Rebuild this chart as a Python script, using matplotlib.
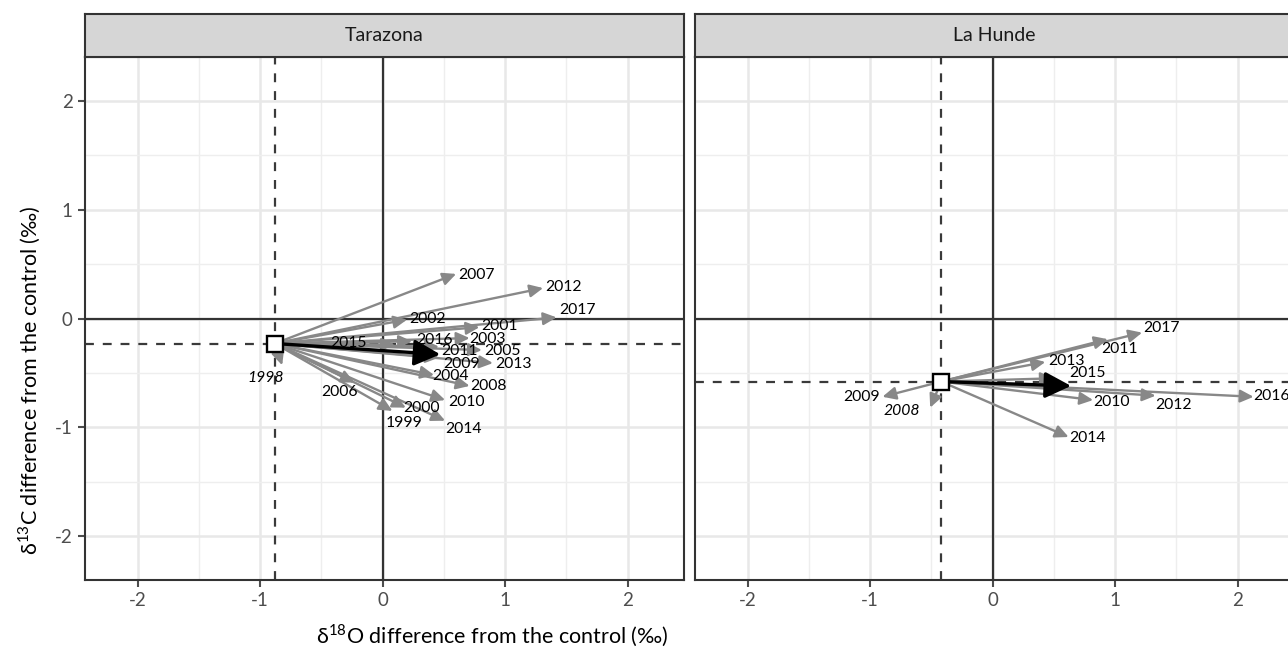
import matplotlib
matplotlib.use("Agg")
import matplotlib.pyplot as plt
from matplotlib.ticker import MultipleLocator

plt.rcParams['font.family'] = ['Lato', 'DejaVu Sans']

# ---------------- data ----------------
sites = ["Tarazona", "La Hunde"]

taz_years = [1998, 1999, 2000, 2001, 2002, 2003, 2004, 2005, 2006, 2007,
             2008, 2009, 2010, 2011, 2012, 2013, 2014, 2015, 2016, 2017]
taz_dO = [-0.82, 0.08, 0.19, 0.79, 0.20, 0.71, 0.42, 0.81, -0.23, 0.60,
          0.71, 0.46, 0.51, 0.46, 1.31, 0.90, 0.51, 0.10, 0.24, 1.42]
taz_dC = [-0.43, -0.85, -0.82, -0.08, -0.01, -0.18, -0.52, -0.29, -0.59, 0.41,
          -0.62, -0.36, -0.75, -0.26, 0.28, -0.41, -0.94, -0.24, -0.21, 0.01]
taz_origin = (-0.88, -0.23)
taz_mean = (0.47, -0.33)
taz_italic = [1998]

lh_years = [2008, 2009, 2010, 2011, 2012, 2013, 2014, 2015, 2016, 2017]
lh_dO = [-0.51, -0.90, 0.82, 0.94, 1.33, 0.43, 0.62, 0.50, 2.13, 1.22]
lh_dC = [-0.82, -0.72, -0.75, -0.19, -0.71, -0.40, -1.09, -0.55, -0.72, -0.13]
lh_origin = (-0.42, -0.58)
lh_mean = (0.64, -0.62)
lh_italic = [2008]

xticks = [-2, -1, 0, 1, 2]
yticks = [-2, -1, 0, 1, 2]

# label placement (pixel offsets from arrow tip: dx, dy-down, ha)
taz_lab = {1998: (2, 13, 'right'), 1999: (-7, 12, 'left'), 2000: (-3, 0, 'left'),
           2001: (2, -1, 'left'), 2002: (2, -1, 'left'), 2003: (0, 1, 'left'),
           2004: (-2, 1, 'left'), 2005: (2, 1, 'left'), 2006: (3, 9, 'right'),
           2007: (2, 1, 'left'), 2008: (1, 0, 'left'), 2009: (4, 6, 'left'),
           2010: (3, 2, 'left'), 2011: (2, 4, 'left'), 2012: (2, -1, 'left'),
           2013: (2, 1, 'left'), 2014: (0, 8, 'left'), 2015: (-28, -2, 'right'),
           2016: (4, -1, 'left'), 2017: (3, -7, 'left')}
lh_lab = {2008: (-10, 3, 'right'), 2009: (-3, 0, 'right'), 2010: (0, 2, 'left'),
          2011: (-7, 10, 'left'), 2012: (0, 9, 'left'), 2013: (3, -1, 'left'),
          2014: (1, 1, 'left'), 2015: (15, -5, 'left'), 2016: (0, -1, 'left'),
          2017: (1, -5, 'left')}

# ---------------- figure ----------------
W, H = 1288, 651
fig = plt.figure(figsize=(W / 100, H / 100), dpi=100)

def fx(px):
    return px / W

def fy(py):
    return 1 - py / H

panel_top, panel_bot = 57, 580
strip_top = 14
pw = 599
lefts = [85, 695]

xlim = (-2.43, 2.46)
ylim = (-2.405, 2.405)

GRAY_ARROW = '#888888'
DARK = '#333333'

panels = [
    (taz_years, taz_dO, taz_dC, taz_origin, taz_mean, taz_italic, taz_lab),
    (lh_years, lh_dO, lh_dC, lh_origin, lh_mean, lh_italic, lh_lab),
]

for i, (site, pdata) in enumerate(zip(sites, panels)):
    years, dO, dC, origin, mean, italic, labs = pdata
    L = lefts[i]
    ax = fig.add_axes([fx(L), fy(panel_bot), pw / W, (panel_bot - panel_top) / H])
    ax.set_xlim(*xlim)
    ax.set_ylim(*ylim)
    ax.set_facecolor('white')
    ax.xaxis.set_major_locator(MultipleLocator(1))
    ax.xaxis.set_minor_locator(MultipleLocator(0.5))
    ax.yaxis.set_major_locator(MultipleLocator(1))
    ax.yaxis.set_minor_locator(MultipleLocator(0.5))
    ax.grid(which='major', color='#e8e8e8', lw=1.8, zorder=0)
    ax.grid(which='minor', color='#eeeeee', lw=1.0, zorder=0)
    ax.set_axisbelow(True)
    ax.set_xticks(xticks)
    ax.set_xticklabels([str(t) for t in xticks])
    ax.set_yticks(yticks)
    if i == 0:
        ax.set_yticklabels([str(t) for t in yticks])
    else:
        ax.tick_params(axis='y', which='both', left=False, labelleft=False)
    ax.tick_params(axis='both', which='major', labelsize=13.5, colors='#4d4d4d',
                   length=5, width=1.5, pad=4)
    ax.tick_params(axis='both', which='minor', length=0)
    for sp in ax.spines.values():
        sp.set_color(DARK)
        sp.set_linewidth(1.5)
        sp.set_zorder(6)

    # reference lines
    ax.axhline(0, color=DARK, lw=1.6, zorder=1)
    ax.axvline(0, color=DARK, lw=1.6, zorder=1)
    ax.axhline(origin[1], color='#3a3a3a', lw=1.6, ls=(0, (4, 4)), zorder=1)
    ax.axvline(origin[0], color='#3a3a3a', lw=1.6, ls=(0, (4, 4)), zorder=1)

    # yearly arrows
    for y, xo, yc in zip(years, dO, dC):
        ax.annotate('', xy=(xo, yc), xytext=origin,
                    arrowprops=dict(arrowstyle='-|>,head_length=0.8,head_width=0.38',
                                    color=GRAY_ARROW, lw=1.7, shrinkA=0, shrinkB=0,
                                    mutation_scale=10),
                    zorder=2)
    # mean arrow
    ax.annotate('', xy=mean, xytext=origin,
                arrowprops=dict(arrowstyle='-|>,head_length=1.6,head_width=0.8',
                                color='black', lw=2.4, shrinkA=0, shrinkB=0,
                                mutation_scale=10),
                zorder=3)
    ax.plot([origin[0]], [origin[1]], marker='s', ms=12, mfc='white', mec='black',
            mew=1.7, zorder=5, ls='none')

    # labels
    for y, xo, yc in zip(years, dO, dC):
        dx, dy, ha = labs[y]
        ax.annotate(str(y), xy=(xo, yc), xytext=(dx, -dy), textcoords='offset pixels',
                    ha=ha, va='center', fontsize=11.3,
                    style='italic' if y in italic else 'normal',
                    color='black', zorder=7, annotation_clip=False)

    # strip
    sax = fig.add_axes([fx(L), fy(panel_top), pw / W, (panel_top - strip_top) / H])
    sax.set_facecolor('#d6d6d6')
    sax.set_xticks([])
    sax.set_yticks([])
    for sp in sax.spines.values():
        sp.set_color(DARK)
        sp.set_linewidth(1.5)
    sax.text(0.5, 0.5, site, ha='center', va='center', fontsize=14,
             color='#1a1a1a', transform=sax.transAxes)

fig.text(fx(492), fy(636), 'δ$^{\\mathregular{18}}$O difference from the control (‰)',
         ha='center', va='center', fontsize=15.5)
fig.text(fx(30), fy(380), 'δ$^{\\mathregular{13}}$C difference from the control (‰)',
         ha='center', va='center', fontsize=15.5, rotation=90)

fig.savefig('out.png', dpi=100)
